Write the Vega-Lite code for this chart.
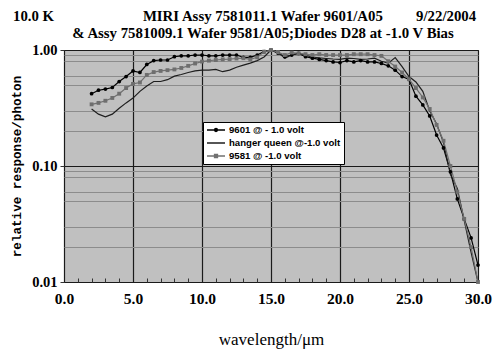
{
  "$schema": "https://vega.github.io/schema/vega-lite/v6.json",
  "width": 414,
  "height": 232,
  "autosize": {"type": "none"},
  "padding": {"left": 64, "top": 50, "right": 19, "bottom": 69},
  "background": "white",
  "title": {
    "text": [
      "10.0 K\u00a0\u00a0\u00a0\u00a0\u00a0\u00a0\u00a0\u00a0\u00a0\u00a0\u00a0\u00a0\u00a0\u00a0\u00a0\u00a0\u00a0\u00a0\u00a0\u00a0\u00a0\u00a0\u00a0\u00a0MIRI Assy 7581011.1 Wafer 9601/A05\u00a0\u00a0\u00a0\u00a0\u00a0\u00a0\u00a0\u00a0\u00a09/22/2004",
      "\u200b\u00a0\u00a0\u00a0\u00a0\u00a0\u00a0\u00a0\u00a0\u00a0\u00a0\u00a0\u00a0\u00a0\u00a0\u00a0\u00a0& Assy 7581009.1 Wafer 9581/A05;Diodes D28 at -1.0 V Bias"
    ],
    "anchor": "start",
    "frame": "group",
    "dx": -51,
    "offset": 1.5,
    "font": "Liberation Serif",
    "fontWeight": "bold",
    "fontSize": 14.8,
    "lineHeight": 16.5,
    "color": "#000000"
  },
  "config": {
    "view": {"fill": "#c0c0c0", "stroke": "#222222", "strokeWidth": 1}
  },
  "data": {
    "values": [
      {"series": "9601 @ - 1.0 volt", "wl": 2, "r": 0.42},
      {"series": "9601 @ - 1.0 volt", "wl": 2.5, "r": 0.45},
      {"series": "9601 @ - 1.0 volt", "wl": 3, "r": 0.46},
      {"series": "9601 @ - 1.0 volt", "wl": 3.5, "r": 0.475},
      {"series": "9601 @ - 1.0 volt", "wl": 4, "r": 0.535},
      {"series": "9601 @ - 1.0 volt", "wl": 4.5, "r": 0.59},
      {"series": "9601 @ - 1.0 volt", "wl": 5, "r": 0.66},
      {"series": "9601 @ - 1.0 volt", "wl": 5.5, "r": 0.64},
      {"series": "9601 @ - 1.0 volt", "wl": 6, "r": 0.75},
      {"series": "9601 @ - 1.0 volt", "wl": 6.5, "r": 0.81},
      {"series": "9601 @ - 1.0 volt", "wl": 7, "r": 0.82},
      {"series": "9601 @ - 1.0 volt", "wl": 7.5, "r": 0.82},
      {"series": "9601 @ - 1.0 volt", "wl": 8, "r": 0.875},
      {"series": "9601 @ - 1.0 volt", "wl": 8.5, "r": 0.89},
      {"series": "9601 @ - 1.0 volt", "wl": 9, "r": 0.89},
      {"series": "9601 @ - 1.0 volt", "wl": 9.5, "r": 0.905},
      {"series": "9601 @ - 1.0 volt", "wl": 10, "r": 0.905},
      {"series": "9601 @ - 1.0 volt", "wl": 10.5, "r": 0.89},
      {"series": "9601 @ - 1.0 volt", "wl": 11, "r": 0.89},
      {"series": "9601 @ - 1.0 volt", "wl": 11.5, "r": 0.905},
      {"series": "9601 @ - 1.0 volt", "wl": 12, "r": 0.905},
      {"series": "9601 @ - 1.0 volt", "wl": 12.5, "r": 0.905},
      {"series": "9601 @ - 1.0 volt", "wl": 13, "r": 0.865},
      {"series": "9601 @ - 1.0 volt", "wl": 13.5, "r": 0.865},
      {"series": "9601 @ - 1.0 volt", "wl": 14, "r": 0.905},
      {"series": "9601 @ - 1.0 volt", "wl": 14.5, "r": 0.967},
      {"series": "9601 @ - 1.0 volt", "wl": 15, "r": 1.0},
      {"series": "9601 @ - 1.0 volt", "wl": 15.5, "r": 0.94},
      {"series": "9601 @ - 1.0 volt", "wl": 16, "r": 0.875},
      {"series": "9601 @ - 1.0 volt", "wl": 16.5, "r": 0.905},
      {"series": "9601 @ - 1.0 volt", "wl": 17, "r": 0.935},
      {"series": "9601 @ - 1.0 volt", "wl": 17.5, "r": 0.875},
      {"series": "9601 @ - 1.0 volt", "wl": 18, "r": 0.85},
      {"series": "9601 @ - 1.0 volt", "wl": 18.5, "r": 0.83},
      {"series": "9601 @ - 1.0 volt", "wl": 19, "r": 0.81},
      {"series": "9601 @ - 1.0 volt", "wl": 19.5, "r": 0.79},
      {"series": "9601 @ - 1.0 volt", "wl": 20, "r": 0.78},
      {"series": "9601 @ - 1.0 volt", "wl": 20.5, "r": 0.81},
      {"series": "9601 @ - 1.0 volt", "wl": 21, "r": 0.79},
      {"series": "9601 @ - 1.0 volt", "wl": 21.5, "r": 0.81},
      {"series": "9601 @ - 1.0 volt", "wl": 22, "r": 0.79},
      {"series": "9601 @ - 1.0 volt", "wl": 22.5, "r": 0.79},
      {"series": "9601 @ - 1.0 volt", "wl": 23, "r": 0.765},
      {"series": "9601 @ - 1.0 volt", "wl": 23.5, "r": 0.73},
      {"series": "9601 @ - 1.0 volt", "wl": 24, "r": 0.67},
      {"series": "9601 @ - 1.0 volt", "wl": 24.5, "r": 0.59},
      {"series": "9601 @ - 1.0 volt", "wl": 25, "r": 0.557},
      {"series": "9601 @ - 1.0 volt", "wl": 25.5, "r": 0.4},
      {"series": "9601 @ - 1.0 volt", "wl": 26, "r": 0.336},
      {"series": "9601 @ - 1.0 volt", "wl": 26.5, "r": 0.27},
      {"series": "9601 @ - 1.0 volt", "wl": 27, "r": 0.185},
      {"series": "9601 @ - 1.0 volt", "wl": 27.5, "r": 0.143},
      {"series": "9601 @ - 1.0 volt", "wl": 28, "r": 0.089},
      {"series": "9601 @ - 1.0 volt", "wl": 28.5, "r": 0.052},
      {"series": "9601 @ - 1.0 volt", "wl": 29, "r": 0.035},
      {"series": "9601 @ - 1.0 volt", "wl": 29.5, "r": 0.024},
      {"series": "9601 @ - 1.0 volt", "wl": 30, "r": 0.014},
      {"series": "hanger queen @-1.0 volt", "wl": 2, "r": 0.31},
      {"series": "hanger queen @-1.0 volt", "wl": 2.5, "r": 0.28},
      {"series": "hanger queen @-1.0 volt", "wl": 3, "r": 0.265},
      {"series": "hanger queen @-1.0 volt", "wl": 3.5, "r": 0.28},
      {"series": "hanger queen @-1.0 volt", "wl": 4, "r": 0.315},
      {"series": "hanger queen @-1.0 volt", "wl": 4.5, "r": 0.35},
      {"series": "hanger queen @-1.0 volt", "wl": 5, "r": 0.385},
      {"series": "hanger queen @-1.0 volt", "wl": 5.5, "r": 0.44},
      {"series": "hanger queen @-1.0 volt", "wl": 6, "r": 0.49},
      {"series": "hanger queen @-1.0 volt", "wl": 6.5, "r": 0.535},
      {"series": "hanger queen @-1.0 volt", "wl": 7, "r": 0.535},
      {"series": "hanger queen @-1.0 volt", "wl": 7.5, "r": 0.555},
      {"series": "hanger queen @-1.0 volt", "wl": 8, "r": 0.595},
      {"series": "hanger queen @-1.0 volt", "wl": 8.5, "r": 0.615},
      {"series": "hanger queen @-1.0 volt", "wl": 9, "r": 0.64},
      {"series": "hanger queen @-1.0 volt", "wl": 9.5, "r": 0.66},
      {"series": "hanger queen @-1.0 volt", "wl": 10, "r": 0.67},
      {"series": "hanger queen @-1.0 volt", "wl": 10.5, "r": 0.67},
      {"series": "hanger queen @-1.0 volt", "wl": 11, "r": 0.68},
      {"series": "hanger queen @-1.0 volt", "wl": 11.5, "r": 0.65},
      {"series": "hanger queen @-1.0 volt", "wl": 12, "r": 0.67},
      {"series": "hanger queen @-1.0 volt", "wl": 12.5, "r": 0.71},
      {"series": "hanger queen @-1.0 volt", "wl": 13, "r": 0.74},
      {"series": "hanger queen @-1.0 volt", "wl": 13.5, "r": 0.77},
      {"series": "hanger queen @-1.0 volt", "wl": 14, "r": 0.81},
      {"series": "hanger queen @-1.0 volt", "wl": 14.5, "r": 0.87},
      {"series": "hanger queen @-1.0 volt", "wl": 15, "r": 1.0},
      {"series": "hanger queen @-1.0 volt", "wl": 15.5, "r": 0.96},
      {"series": "hanger queen @-1.0 volt", "wl": 16, "r": 0.85},
      {"series": "hanger queen @-1.0 volt", "wl": 16.5, "r": 0.905},
      {"series": "hanger queen @-1.0 volt", "wl": 17, "r": 0.94},
      {"series": "hanger queen @-1.0 volt", "wl": 17.5, "r": 0.9},
      {"series": "hanger queen @-1.0 volt", "wl": 18, "r": 0.87},
      {"series": "hanger queen @-1.0 volt", "wl": 18.5, "r": 0.855},
      {"series": "hanger queen @-1.0 volt", "wl": 19, "r": 0.845},
      {"series": "hanger queen @-1.0 volt", "wl": 19.5, "r": 0.836},
      {"series": "hanger queen @-1.0 volt", "wl": 20, "r": 0.83},
      {"series": "hanger queen @-1.0 volt", "wl": 20.5, "r": 0.85},
      {"series": "hanger queen @-1.0 volt", "wl": 21, "r": 0.845},
      {"series": "hanger queen @-1.0 volt", "wl": 21.5, "r": 0.83},
      {"series": "hanger queen @-1.0 volt", "wl": 22, "r": 0.836},
      {"series": "hanger queen @-1.0 volt", "wl": 22.5, "r": 0.85},
      {"series": "hanger queen @-1.0 volt", "wl": 23, "r": 0.8},
      {"series": "hanger queen @-1.0 volt", "wl": 23.5, "r": 0.77},
      {"series": "hanger queen @-1.0 volt", "wl": 24, "r": 0.86},
      {"series": "hanger queen @-1.0 volt", "wl": 24.5, "r": 0.72},
      {"series": "hanger queen @-1.0 volt", "wl": 25, "r": 0.59},
      {"series": "hanger queen @-1.0 volt", "wl": 25.5, "r": 0.53},
      {"series": "hanger queen @-1.0 volt", "wl": 26, "r": 0.44},
      {"series": "hanger queen @-1.0 volt", "wl": 26.5, "r": 0.3},
      {"series": "hanger queen @-1.0 volt", "wl": 27, "r": 0.23},
      {"series": "hanger queen @-1.0 volt", "wl": 27.5, "r": 0.16},
      {"series": "hanger queen @-1.0 volt", "wl": 28, "r": 0.085},
      {"series": "hanger queen @-1.0 volt", "wl": 28.5, "r": 0.064},
      {"series": "hanger queen @-1.0 volt", "wl": 29, "r": 0.034},
      {"series": "hanger queen @-1.0 volt", "wl": 29.5, "r": 0.018},
      {"series": "hanger queen @-1.0 volt", "wl": 30, "r": 0.01},
      {"series": "9581 @ -1.0 volt", "wl": 2, "r": 0.34},
      {"series": "9581 @ -1.0 volt", "wl": 2.5, "r": 0.35},
      {"series": "9581 @ -1.0 volt", "wl": 3, "r": 0.365},
      {"series": "9581 @ -1.0 volt", "wl": 3.5, "r": 0.386},
      {"series": "9581 @ -1.0 volt", "wl": 4, "r": 0.42},
      {"series": "9581 @ -1.0 volt", "wl": 4.5, "r": 0.47},
      {"series": "9581 @ -1.0 volt", "wl": 5, "r": 0.51},
      {"series": "9581 @ -1.0 volt", "wl": 5.5, "r": 0.525},
      {"series": "9581 @ -1.0 volt", "wl": 6, "r": 0.61},
      {"series": "9581 @ -1.0 volt", "wl": 6.5, "r": 0.645},
      {"series": "9581 @ -1.0 volt", "wl": 7, "r": 0.66},
      {"series": "9581 @ -1.0 volt", "wl": 7.5, "r": 0.67},
      {"series": "9581 @ -1.0 volt", "wl": 8, "r": 0.68},
      {"series": "9581 @ -1.0 volt", "wl": 8.5, "r": 0.7},
      {"series": "9581 @ -1.0 volt", "wl": 9, "r": 0.73},
      {"series": "9581 @ -1.0 volt", "wl": 9.5, "r": 0.765},
      {"series": "9581 @ -1.0 volt", "wl": 10, "r": 0.795},
      {"series": "9581 @ -1.0 volt", "wl": 10.5, "r": 0.81},
      {"series": "9581 @ -1.0 volt", "wl": 11, "r": 0.82},
      {"series": "9581 @ -1.0 volt", "wl": 11.5, "r": 0.83},
      {"series": "9581 @ -1.0 volt", "wl": 12, "r": 0.835},
      {"series": "9581 @ -1.0 volt", "wl": 12.5, "r": 0.845},
      {"series": "9581 @ -1.0 volt", "wl": 13, "r": 0.85},
      {"series": "9581 @ -1.0 volt", "wl": 13.5, "r": 0.83},
      {"series": "9581 @ -1.0 volt", "wl": 14, "r": 0.865},
      {"series": "9581 @ -1.0 volt", "wl": 14.5, "r": 0.967},
      {"series": "9581 @ -1.0 volt", "wl": 15, "r": 1.0},
      {"series": "9581 @ -1.0 volt", "wl": 15.5, "r": 0.96},
      {"series": "9581 @ -1.0 volt", "wl": 16, "r": 0.905},
      {"series": "9581 @ -1.0 volt", "wl": 16.5, "r": 0.95},
      {"series": "9581 @ -1.0 volt", "wl": 17, "r": 0.935},
      {"series": "9581 @ -1.0 volt", "wl": 17.5, "r": 0.92},
      {"series": "9581 @ -1.0 volt", "wl": 18, "r": 0.905},
      {"series": "9581 @ -1.0 volt", "wl": 18.5, "r": 0.92},
      {"series": "9581 @ -1.0 volt", "wl": 19, "r": 0.905},
      {"series": "9581 @ -1.0 volt", "wl": 19.5, "r": 0.905},
      {"series": "9581 @ -1.0 volt", "wl": 20, "r": 0.905},
      {"series": "9581 @ -1.0 volt", "wl": 20.5, "r": 0.905},
      {"series": "9581 @ -1.0 volt", "wl": 21, "r": 0.92},
      {"series": "9581 @ -1.0 volt", "wl": 21.5, "r": 0.92},
      {"series": "9581 @ -1.0 volt", "wl": 22, "r": 0.92},
      {"series": "9581 @ -1.0 volt", "wl": 22.5, "r": 0.905},
      {"series": "9581 @ -1.0 volt", "wl": 23, "r": 0.89},
      {"series": "9581 @ -1.0 volt", "wl": 23.5, "r": 0.8},
      {"series": "9581 @ -1.0 volt", "wl": 24, "r": 0.72},
      {"series": "9581 @ -1.0 volt", "wl": 24.5, "r": 0.64},
      {"series": "9581 @ -1.0 volt", "wl": 25, "r": 0.56},
      {"series": "9581 @ -1.0 volt", "wl": 25.5, "r": 0.47},
      {"series": "9581 @ -1.0 volt", "wl": 26, "r": 0.39},
      {"series": "9581 @ -1.0 volt", "wl": 26.5, "r": 0.31},
      {"series": "9581 @ -1.0 volt", "wl": 27, "r": 0.226},
      {"series": "9581 @ -1.0 volt", "wl": 27.5, "r": 0.165},
      {"series": "9581 @ -1.0 volt", "wl": 28, "r": 0.1},
      {"series": "9581 @ -1.0 volt", "wl": 28.5, "r": 0.06},
      {"series": "9581 @ -1.0 volt", "wl": 29, "r": 0.035},
      {"series": "9581 @ -1.0 volt", "wl": 29.5, "r": 0.02},
      {"series": "9581 @ -1.0 volt", "wl": 30, "r": 0.01}
    ]
  },
  "layer": [
    {
      "mark": {"type": "point", "opacity": 0, "filled": false},
      "encoding": {
        "x": {
          "field": "wl", "type": "quantitative",
          "scale": {"domain": [0, 30], "nice": false, "zero": false},
          "axis": {
            "orient": "bottom", "title": null, "labels": false, "grid": false, "domain": false,
            "ticks": true, "tickSize": -4, "tickColor": "#333333", "tickWidth": 1,
            "values": [1, 2, 3, 4, 6, 7, 8, 9, 11, 12, 13, 14, 16, 17, 18, 19, 21, 22, 23, 24, 26, 27, 28, 29]
          }
        },
        "y": {
          "field": "r", "type": "quantitative",
          "scale": {"type": "log", "domain": [0.01, 1], "nice": false},
          "axis": {
            "orient": "left", "title": null, "labels": false, "ticks": false, "domain": false,
            "grid": true, "gridColor": "#8c8c8c", "gridWidth": 1, "gridOpacity": 1,
            "values": [0.02, 0.03, 0.05, 0.06, 0.08, 0.09, 0.2, 0.3, 0.5, 0.6, 0.8, 0.9]
          }
        },
        "color": {
          "field": "series", "type": "nominal",
          "scale": {
            "domain": ["9601 @ - 1.0 volt", "hanger queen @-1.0 volt", "9581 @ -1.0 volt"],
            "range": ["#000000", "#1e1e1e", "#707070"]
          },
          "legend": {
            "title": null, "orient": "none", "legendX": 139, "legendY": 72,
            "fillColor": "#ffffff", "strokeColor": "#000000", "padding": 3,
            "symbolSize": 64, "symbolStrokeWidth": 1.5, "symbolOpacity": 1,
            "labelFont": "Liberation Sans", "labelFontWeight": "bold", "labelFontSize": 9.6,
            "labelColor": "#000000", "labelOffset": 13, "rowPadding": 3
          }
        },
        "shape": {
          "field": "series", "type": "nominal",
          "scale": {
            "domain": ["9601 @ - 1.0 volt", "hanger queen @-1.0 volt", "9581 @ -1.0 volt"],
            "range": [
              "M-1,0H3.5M1.6,0A0.35,0.35,0,1,1,0.9,0A0.35,0.35,0,1,1,1.6,0Z",
              "M-1,0H3.5",
              "M-1,0H3.5M0.9,-0.35H1.6V0.35H0.9Z"
            ]
          },
          "legend": {
            "title": null, "orient": "none", "legendX": 139, "legendY": 72,
            "fillColor": "#ffffff", "strokeColor": "#000000", "padding": 3,
            "symbolSize": 64, "symbolStrokeWidth": 1.5, "symbolOpacity": 1,
            "labelFont": "Liberation Sans", "labelFontWeight": "bold", "labelFontSize": 9.6,
            "labelColor": "#000000", "labelOffset": 13, "rowPadding": 3
          }
        }
      }
    },
    {
      "mark": {"type": "line", "strokeWidth": 1.2},
      "encoding": {
        "x": {
          "field": "wl", "type": "quantitative",
          "scale": {"domain": [0, 30], "nice": false, "zero": false},
          "axis": {
            "orient": "bottom", "values": [0, 5, 10, 15, 20, 25, 30], "format": ".1f",
            "grid": true, "gridColor": "#1a1a1a", "gridWidth": 1.2, "gridOpacity": 1,
            "domain": false, "ticks": false, "labelPadding": 9, "labelFlush": false,
            "labelFont": "Liberation Serif", "labelFontWeight": "bold", "labelFontSize": 15.5, "labelColor": "#000000",
            "title": "wavelength/μm", "titleFont": "Liberation Serif", "titleFontWeight": "normal",
            "titleFontSize": 17, "titleColor": "#000000", "titlePadding": 25
          }
        },
        "y": {
          "field": "r", "type": "quantitative",
          "scale": {"type": "log", "domain": [0.01, 1], "nice": false},
          "axis": {
            "orient": "left", "values": [0.01, 0.1, 1], "format": ".2f",
            "grid": true, "gridColor": "#1a1a1a", "gridWidth": 1.2, "gridOpacity": 1,
            "domain": false, "ticks": true, "tickSize": 4, "tickColor": "#333333", "labelPadding": 3,
            "labelFont": "Liberation Serif", "labelFontWeight": "bold", "labelFontSize": 14.5, "labelColor": "#000000",
            "title": "relative response/photon", "titleFont": "Liberation Mono", "titleFontWeight": "bold",
            "titleFontSize": 12.6, "titleColor": "#000000", "titlePadding": 8
          }
        },
        "color": {
          "field": "series", "type": "nominal",
          "scale": {
            "domain": ["9601 @ - 1.0 volt", "hanger queen @-1.0 volt", "9581 @ -1.0 volt"],
            "range": ["#000000", "#1e1e1e", "#707070"]
          },
          "legend": null
        },
        "detail": {"field": "series"}
      }
    },
    {
      "transform": [{"filter": "datum.series === '9601 @ - 1.0 volt'"}],
      "mark": {"type": "point", "shape": "circle", "filled": true, "size": 14, "color": "#000000", "opacity": 1},
      "encoding": {
        "x": {"field": "wl", "type": "quantitative", "scale": {"domain": [0, 30], "nice": false, "zero": false}, "axis": null},
        "y": {"field": "r", "type": "quantitative", "scale": {"type": "log", "domain": [0.01, 1], "nice": false}, "axis": null}
      }
    },
    {
      "transform": [{"filter": "datum.series === '9581 @ -1.0 volt'"}],
      "mark": {"type": "point", "shape": "square", "filled": true, "size": 15, "color": "#6e6e6e", "opacity": 1},
      "encoding": {
        "x": {"field": "wl", "type": "quantitative", "scale": {"domain": [0, 30], "nice": false, "zero": false}, "axis": null},
        "y": {"field": "r", "type": "quantitative", "scale": {"type": "log", "domain": [0.01, 1], "nice": false}, "axis": null}
      }
    }
  ],
  "resolve": {
    "axis": {"x": "independent", "y": "independent"},
    "legend": {"color": "independent", "shape": "independent"}
  }
}
